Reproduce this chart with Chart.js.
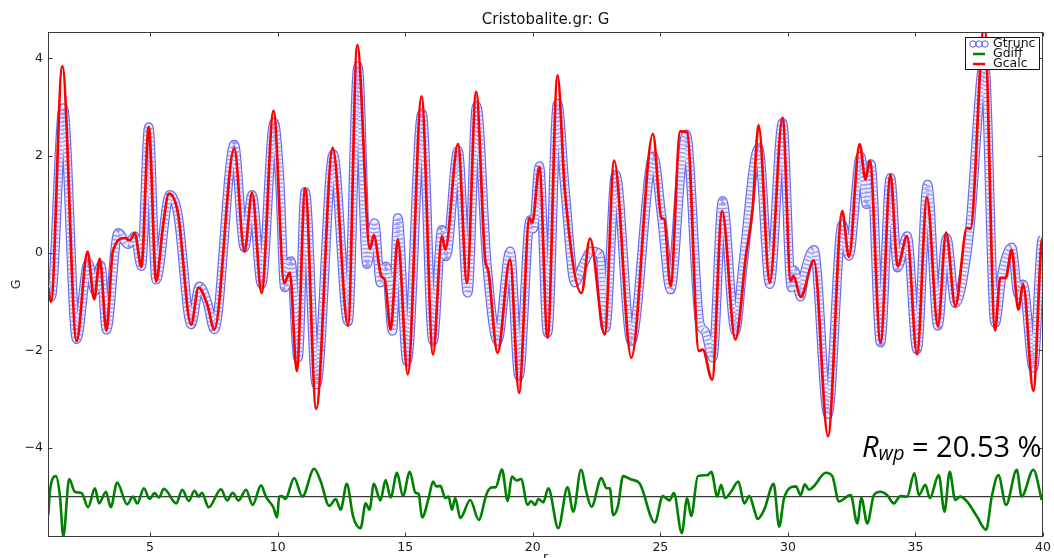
<!DOCTYPE html>
<html>
<head>
<meta charset="utf-8">
<script src="https://cdn.jsdelivr.net/npm/chart.js@4.4.1/dist/chart.umd.min.js"></script>
<style>
html,body{margin:0;padding:0;background:#fff;}
#wrap{position:relative;width:1054px;height:558px;overflow:hidden;background:#fff;}
#c{position:absolute;left:0;top:0;}
#legend{position:absolute;left:965px;top:37px;width:75px;height:33px;border:1px solid #111;background:#fff;box-sizing:border-box;font-family:'DejaVu Sans';font-size:12.5px;color:#111;}
#legend .row{position:absolute;left:0;height:10px;width:73px;}
#legend .row span{position:absolute;left:27px;top:-4px;line-height:15px;}
#legend svg{position:absolute;left:2px;top:0;}
#rwp{position:absolute;left:862px;top:431px;font-family:'Open Sans';font-size:29px;line-height:29px;color:#000;white-space:nowrap;}
#rwp i{font-style:italic;}
#rwp .sub{font-size:20px;position:relative;top:3px;font-style:italic;}
</style>
</head>
<body>
<div id="wrap">
<canvas id="c" width="1054" height="558"></canvas>
<div id="legend">
  <div class="row" style="top:1px"><svg width="24" height="10"><circle cx="5" cy="5" r="3.2" fill="none" stroke="#5a5af0" stroke-width="1"/><circle cx="11" cy="5" r="3.2" fill="none" stroke="#5a5af0" stroke-width="1"/><circle cx="17" cy="5" r="3.2" fill="none" stroke="#5a5af0" stroke-width="1"/></svg><span>Gtrunc</span></div>
  <div class="row" style="top:11px"><svg width="24" height="10"><line x1="5" y1="5" x2="17" y2="5" stroke="#008000" stroke-width="2.5"/></svg><span>Gdiff</span></div>
  <div class="row" style="top:21px"><svg width="24" height="10"><line x1="5" y1="5" x2="17" y2="5" stroke="#ff0000" stroke-width="2.5"/></svg><span>Gcalc</span></div>
</div>
<div id="rwp"><i>R</i><span class="sub">wp</span> = 20.53 %</div>
</div>
<script>
// ---- data ----
const xTicks = [5, 10, 15, 20, 25, 30, 35, 40];
const yTicks = [-4, -2, 0, 2, 4];
const diffBaseline = -5.0;

// Gcalc (red line)
const calcR = [1.00,1.12,1.56,2.12,2.55,2.81,3.03,3.29,3.54,4.00,4.20,4.40,4.66,4.95,5.24,5.50,5.74,6.09,6.61,6.90,7.24,7.52,8.30,8.70,9.00,9.37,9.84,10.26,10.48,10.75,11.08,11.51,12.16,12.76,13.12,13.62,13.77,14.06,14.20,14.43,14.71,15.10,15.64,16.09,16.44,16.57,17.07,17.42,17.78,18.14,18.25,18.62,19.11,19.46,19.87,19.98,20.26,20.58,20.97,21.26,21.91,22.24,22.82,23.19,23.86,24.71,25.04,25.15,25.40,25.78,26.05,26.51,26.66,27.03,27.42,27.94,28.36,28.62,28.85,29.29,29.79,30.11,30.22,30.50,31.02,31.57,32.13,32.39,32.81,33.04,33.21,33.63,34.02,34.30,34.67,35.06,35.45,35.88,36.20,36.56,37.02,37.15,37.70,38.12,38.32,38.54,38.77,39.03,39.22,39.62,39.95,40.00];
const calcG = [-0.70,-1.00,3.84,-1.81,0.03,-0.95,-0.12,-1.60,0.03,0.31,0.26,0.41,-0.29,2.59,-0.58,0.52,1.22,0.83,-1.47,-0.71,-1.05,-1.57,2.15,0.03,1.24,-0.82,2.92,-0.61,-0.40,-2.42,1.33,-3.20,2.16,-1.49,4.27,0.08,0.37,-0.47,-0.55,-1.57,0.28,-2.49,3.22,-2.08,0.35,0.07,2.24,-0.61,3.31,-0.16,-0.35,-2.05,-0.13,-2.87,0.72,0.62,1.77,-1.74,3.65,1.27,-0.82,0.30,-1.67,1.90,-2.15,2.45,0.72,0.70,-0.68,2.50,2.48,-2.01,-1.98,-2.60,0.86,-1.77,-0.03,0.93,2.63,-0.61,2.78,-0.57,-0.47,-0.90,-0.15,-3.76,0.86,-0.08,2.24,1.51,1.90,-1.84,1.61,-0.27,0.35,-2.08,1.14,-1.50,0.42,-1.09,0.52,0.50,4.70,-1.59,-0.51,-0.51,0.07,-1.16,-0.64,-2.83,0.25,0.30];

// Gtrunc (blue circles)
const truncR = [1.00,1.12,1.60,2.12,2.58,2.84,3.07,3.29,3.75,4.14,4.40,4.66,4.95,5.24,5.77,6.09,6.61,6.94,7.24,7.52,8.30,8.70,9.00,9.37,9.86,10.08,10.28,10.52,10.80,11.08,11.52,12.18,12.76,13.15,13.50,13.80,14.03,14.25,14.50,14.71,15.07,15.66,16.09,16.44,16.60,17.07,17.45,17.80,18.20,18.62,19.11,19.46,19.90,20.02,20.26,20.58,20.97,21.27,21.65,21.95,22.30,22.63,22.85,23.25,23.86,24.73,25.05,25.40,25.82,26.01,26.55,26.75,27.05,27.44,27.94,28.23,28.85,29.29,29.79,30.14,30.25,30.50,30.65,31.02,31.57,32.13,32.39,32.85,33.08,33.25,33.63,34.02,34.30,34.67,35.06,35.47,35.88,36.22,36.56,37.10,37.70,38.12,38.40,38.77,39.03,39.22,39.62,39.95,40.00];
const truncG = [-0.63,-0.90,2.98,-1.77,-0.20,-0.78,-0.25,-1.58,0.42,0.18,0.35,-0.27,2.59,-0.55,1.20,0.80,-1.47,-0.68,-1.00,-1.57,2.23,0.11,1.20,-0.64,2.68,1.51,-0.71,-0.16,-2.15,1.26,-2.70,2.03,-1.41,3.84,-0.23,0.62,-0.61,-0.27,-1.60,0.72,-2.22,2.88,-1.81,0.48,-0.07,2.11,-0.82,3.02,-0.20,-1.81,0.04,-2.53,0.68,0.50,1.79,-1.64,3.07,1.27,-0.61,-0.27,0.04,-0.02,-1.54,1.61,-1.81,1.99,0.76,-0.75,1.75,2.44,-1.45,-1.60,-2.15,1.07,-1.60,-0.30,2.16,-0.64,2.68,-0.71,-0.35,-0.90,-0.42,0.07,-3.31,0.59,-0.06,1.99,1.00,1.83,-1.84,1.55,-0.30,0.35,-1.98,1.41,-1.50,0.31,-1.03,0.35,3.94,-1.44,-0.40,0.12,-0.85,-0.64,-2.36,0.25,0.30];

// Gdiff (green line, drawn offset about the baseline)
const diffR = [1.01,1.08,1.31,1.47,1.60,1.83,2.05,2.32,2.57,2.84,3.00,3.27,3.46,3.71,4.10,4.33,4.50,4.76,4.98,5.18,5.35,5.54,6.03,6.26,6.52,6.74,6.91,7.03,7.30,7.78,8.02,8.24,8.47,8.76,9.02,9.35,9.54,9.83,9.98,10.06,10.17,10.30,10.65,10.97,11.43,11.69,12.02,12.28,12.47,12.71,12.96,13.25,13.45,13.60,13.77,14.03,14.23,14.43,14.68,14.91,15.18,15.40,15.53,15.66,15.92,16.09,16.22,16.38,16.57,16.70,16.83,16.96,17.16,17.55,17.88,18.20,18.40,18.55,18.79,19.02,19.18,19.37,19.54,19.80,19.93,20.09,20.22,20.41,20.61,21.00,21.36,21.59,21.89,22.11,22.30,22.69,22.89,23.02,23.15,23.34,23.54,23.86,24.19,24.78,25.10,25.36,25.53,25.84,26.05,26.21,26.47,26.85,27.00,27.23,27.38,27.54,27.77,28.06,28.29,28.49,28.68,28.81,29.07,29.44,29.66,29.85,30.31,30.50,30.66,30.83,31.03,31.48,31.74,32.00,32.46,32.72,32.88,33.11,33.37,33.63,33.89,34.15,34.41,34.67,34.96,35.13,35.39,35.56,35.91,36.14,36.34,36.56,36.75,37.02,37.41,37.77,37.99,38.25,38.55,38.97,39.16,39.62,39.95];
const diffG = [-5.38,-4.86,-4.58,-5.00,-5.82,-4.64,-4.90,-4.93,-5.22,-4.83,-5.14,-4.90,-5.22,-4.71,-5.16,-5.00,-5.14,-4.83,-5.05,-4.93,-5.02,-4.84,-5.14,-4.86,-5.09,-4.88,-5.00,-4.92,-5.22,-4.85,-5.08,-4.92,-5.08,-4.86,-5.17,-4.77,-5.00,-5.22,-5.43,-5.00,-4.99,-5.05,-4.62,-5.00,-4.43,-4.69,-5.19,-5.05,-5.27,-4.74,-5.41,-5.65,-5.14,-5.27,-4.74,-5.08,-4.66,-5.02,-4.51,-4.99,-4.49,-4.92,-4.95,-5.43,-5.03,-4.69,-4.79,-4.78,-5.03,-5.00,-5.27,-5.03,-5.44,-5.07,-5.48,-4.93,-4.81,-4.81,-4.44,-5.09,-4.59,-4.67,-4.64,-5.17,-5.09,-5.17,-5.05,-5.12,-4.83,-5.65,-4.81,-5.31,-4.45,-4.93,-5.21,-4.62,-4.83,-4.83,-5.38,-5.19,-4.58,-4.65,-4.73,-5.53,-4.99,-5.08,-4.93,-5.75,-5.03,-5.40,-4.58,-4.56,-4.49,-5.00,-4.76,-5.03,-4.90,-4.69,-5.14,-4.99,-5.27,-5.46,-5.27,-4.74,-5.62,-5.03,-4.79,-4.97,-4.75,-4.86,-4.78,-4.51,-4.58,-5.10,-4.97,-5.55,-5.03,-5.55,-4.97,-4.90,-4.97,-5.14,-4.99,-5.00,-4.52,-4.97,-4.76,-5.03,-4.56,-5.31,-4.49,-5.07,-5.00,-5.10,-5.41,-5.68,-5.00,-4.56,-5.17,-4.45,-5.00,-4.45,-5.07];

// ---- chart ----
const pts = (xs, ys) => xs.map((v, i) => ({x: v, y: ys[i]}));
Chart.defaults.font.family = 'DejaVu Sans';
Chart.defaults.color = '#1a1a1a';

const framePlugin = {
  id: 'frame',
  afterDatasetsDraw(chart) {
    const {ctx, chartArea: a, scales: {x, y}} = chart;
    ctx.save();
    ctx.strokeStyle = '#3a3a3a';
    ctx.lineWidth = 1;
    const L = Math.round(a.left) + 0.5, R = Math.round(a.right) - 0.5, T = Math.round(a.top) + 0.5, B = Math.round(a.bottom) - 0.5;
    ctx.strokeRect(L, T, R - L, B - T);
    ctx.beginPath();
    xTicks.forEach(v => {
      const p = Math.round(x.getPixelForValue(v)) + 0.5;
      ctx.moveTo(p, B); ctx.lineTo(p, B - 4);
      ctx.moveTo(p, T); ctx.lineTo(p, T + 4);
    });
    yTicks.forEach(v => {
      const p = Math.round(y.getPixelForValue(v)) + 0.5;
      ctx.moveTo(L, p); ctx.lineTo(L + 4, p);
      ctx.moveTo(R, p); ctx.lineTo(R - 4, p);
    });
    ctx.stroke();
    ctx.restore();
  }
};

const common = {pointRadius: 0, cubicInterpolationMode: 'monotone', fill: false};

new Chart(document.getElementById('c'), {
  type: 'line',
  data: {
    datasets: [
      Object.assign({label: 'Gcalc', data: pts(calcR, calcG), borderColor: '#ff0000', borderWidth: 2.7}, common),
      Object.assign({label: 'Gtrunc rings', data: pts(truncR, truncG), borderColor: 'rgba(95,95,235,0.6)', borderWidth: 6.5, borderDash: [1.3, 2.7]}, common),
      Object.assign({label: 'Gtrunc fill', data: pts(truncR, truncG), borderColor: '#ececff', borderWidth: 7}, common),
      Object.assign({label: 'Gtrunc', data: pts(truncR, truncG), borderColor: 'rgba(80,80,232,0.85)', borderWidth: 9.4}, common),
      Object.assign({label: 'Gdiff', data: pts(diffR, diffG), borderColor: '#008000', borderWidth: 2.6}, common),
      {label: 'zero', data: [{x: 1, y: diffBaseline}, {x: 40, y: diffBaseline}], borderColor: '#3a3a3a', borderWidth: 1.2, pointRadius: 0}
    ]
  },
  options: {
    responsive: false,
    animation: false,
    devicePixelRatio: 1,
    layout: {padding: {left: 0, right: 8, top: 0, bottom: 0}},
    plugins: {
      legend: {display: false},
      tooltip: {enabled: false},
      title: {
        display: true, text: 'Cristobalite.gr: G', fullSize: false,
        font: {size: 15, weight: 'normal', lineHeight: '18px'}, color: '#111',
        padding: {top: 11, bottom: 3}
      }
    },
    scales: {
      x: {
        type: 'linear', min: 1, max: 40,
        grid: {display: false, drawTicks: false},
        border: {display: false},
        ticks: {font: {size: 12.5}, padding: 3, color: '#1a1a1a', maxRotation: 0},
        afterBuildTicks: s => { s.ticks = xTicks.map(v => ({value: v})); },
        afterFit: s => { s.height = 21; },
        title: {display: true, text: 'r', font: {size: 12.5}, padding: {top: 0, bottom: -7}}
      },
      y: {
        type: 'linear', min: -5.83, max: 4.54,
        grid: {display: false, drawTicks: false},
        border: {display: false},
        ticks: {font: {size: 12.5}, padding: 5, color: '#1a1a1a',
          callback: v => (v < 0 ? '\u2212' + Math.abs(v) : String(v))},
        afterBuildTicks: s => { s.ticks = yTicks.map(v => ({value: v})); },
        afterFit: s => { s.width = 48; },
        title: {display: true, text: 'G', font: {size: 12.5}, padding: {top: 9, bottom: 0}}
      }
    }
  },
  plugins: [framePlugin]
});
</script>
</body>
</html>
